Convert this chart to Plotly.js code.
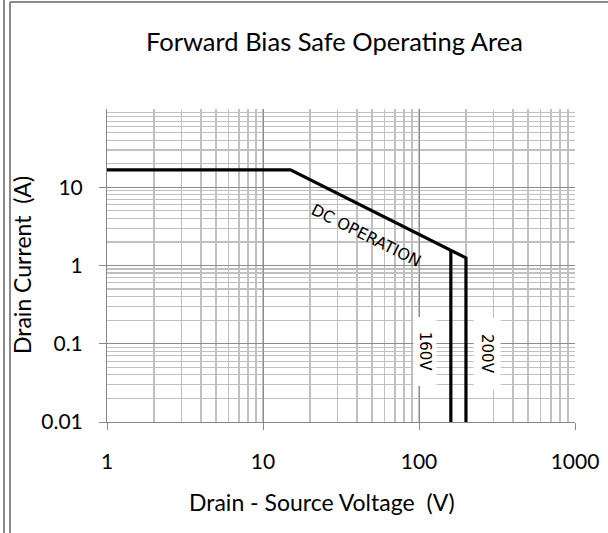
<!DOCTYPE html>
<html>
<head>
<meta charset="utf-8">
<script src="https://cdn.plot.ly/plotly-3.0.1.min.js"></script>
<style>html,body{margin:0;padding:0;background:#fff;}#chart{width:608px;height:533px;}</style>
</head>
<body>
<div id="chart"></div>
<script>
// Data
const dcVoltage = [1, 15, 200, 200];
const dcCurrent = [16.7, 16.7, 1.25, 0.01];
const v160Voltage = [160, 160];
const v160Current = [1.56, 0.01];
const xTickVals = [1, 10, 100, 1000];
const xTickText = ['1', '10', '100', '1000'];
const yTickVals = [0.01, 0.1, 1, 10];
const yTickText = ['0.01', '0.1', '1', '10'];

const lineStyle = {color: '#000000', width: 3.2};

const traces = [
  {x: dcVoltage, y: dcCurrent, mode: 'lines', line: lineStyle, hoverinfo: 'skip', showlegend: false},
  {x: v160Voltage, y: v160Current, mode: 'lines', line: lineStyle, hoverinfo: 'skip', showlegend: false}
];

const baseFont = 'Lato, "Open Sans", sans-serif';
const annFont = 'DejaVu Sans, sans-serif';

const layout = {
  width: 608, height: 533,
  margin: {l: 107, r: 33, t: 109, b: 111},
  paper_bgcolor: '#ffffff', plot_bgcolor: '#ffffff',
  showlegend: false,
  title: {text: 'Forward Bias Safe Operating Area', font: {family: baseFont, size: 25.5, color: '#000'},
          xref: 'container', x: 0.55, xanchor: 'center', y: 0.921, yanchor: 'middle', yref: 'container'},
  xaxis: {
    type: 'log', range: [0, 3],
    tickvals: xTickVals, ticktext: xTickText,
    ticks: 'outside', ticklen: 7, tickcolor: '#868686', tickwidth: 1,
    showline: true, linecolor: '#868686', linewidth: 1,
    showgrid: true, gridcolor: '#8c8c8c', gridwidth: 1,
    minor: {dtick: 'D1', showgrid: true, gridcolor: '#c0c0c0', gridwidth: 1.4, ticks: ''},
    tickfont: {family: baseFont, size: 21, color: '#000'},
    ticklabelstandoff: 14,
    zeroline: false, fixedrange: true
  },
  yaxis: {
    type: 'log', range: [-2, 2],
    tickvals: yTickVals, ticktext: yTickText,
    ticks: 'outside', ticklen: 7, tickcolor: '#868686', tickwidth: 1,
    showline: true, linecolor: '#868686', linewidth: 1,
    showgrid: true, gridcolor: '#8c8c8c', gridwidth: 1,
    minor: {dtick: 'D1', showgrid: true, gridcolor: '#c0c0c0', gridwidth: 1.2, ticks: ''},
    tickfont: {family: baseFont, size: 21, color: '#000'},
    ticklabelstandoff: 12,
    zeroline: false, fixedrange: true
  },
  annotations: [
    {text: 'Drain - Source Voltage  (V)', xref: 'paper', yref: 'paper', x: (322 - 107) / 468, y: (422 - 502) / 313,
     xanchor: 'center', yanchor: 'middle', showarrow: false, font: {family: baseFont, size: 23, color: '#000'}},
    {text: 'Drain Current  (A)', xref: 'paper', yref: 'paper', x: (22 - 107) / 468, y: (422 - 265) / 313,
     xanchor: 'center', yanchor: 'middle', textangle: -90, showarrow: false, font: {family: baseFont, size: 23, color: '#000'}},
    {text: 'DC OPERATION', x: 1.663, y: 0.381, xref: 'x', yref: 'y', showarrow: false,
     textangle: 26.6, font: {family: annFont, size: 16, color: '#000'}},
    {text: '160V', x: 2.040, y: -1.102, xref: 'x', yref: 'y', showarrow: false,
     textangle: 90, font: {family: annFont, size: 15, color: '#000'}, bgcolor: '#ffffff', width: 66, height: 20},
    {text: '200V', x: 2.437, y: -1.131, xref: 'x', yref: 'y', showarrow: false,
     textangle: 90, font: {family: annFont, size: 15, color: '#000'}, bgcolor: '#ffffff', width: 68, height: 24}
  ],
  shapes: [
    {type: 'line', xref: 'paper', yref: 'paper', x0: (4 - 107) / 468, x1: (4 - 107) / 468, y0: (422 - 0) / 313, y1: (422 - 533) / 313, line: {color: '#8a8a8a', width: 2}},
    {type: 'line', xref: 'paper', yref: 'paper', x0: (10 - 107) / 468, x1: (10 - 107) / 468, y0: (422 - 2) / 313, y1: (422 - 533) / 313, line: {color: '#8a8a8a', width: 2}},
    {type: 'line', xref: 'paper', yref: 'paper', x0: (10 - 107) / 468, x1: (608 - 107) / 468, y0: (422 - 2) / 313, y1: (422 - 2) / 313, line: {color: '#8a8a8a', width: 2}}
  ]
};

Plotly.newPlot('chart', traces, layout, {staticPlot: true, displayModeBar: false});
</script>
</body>
</html>
